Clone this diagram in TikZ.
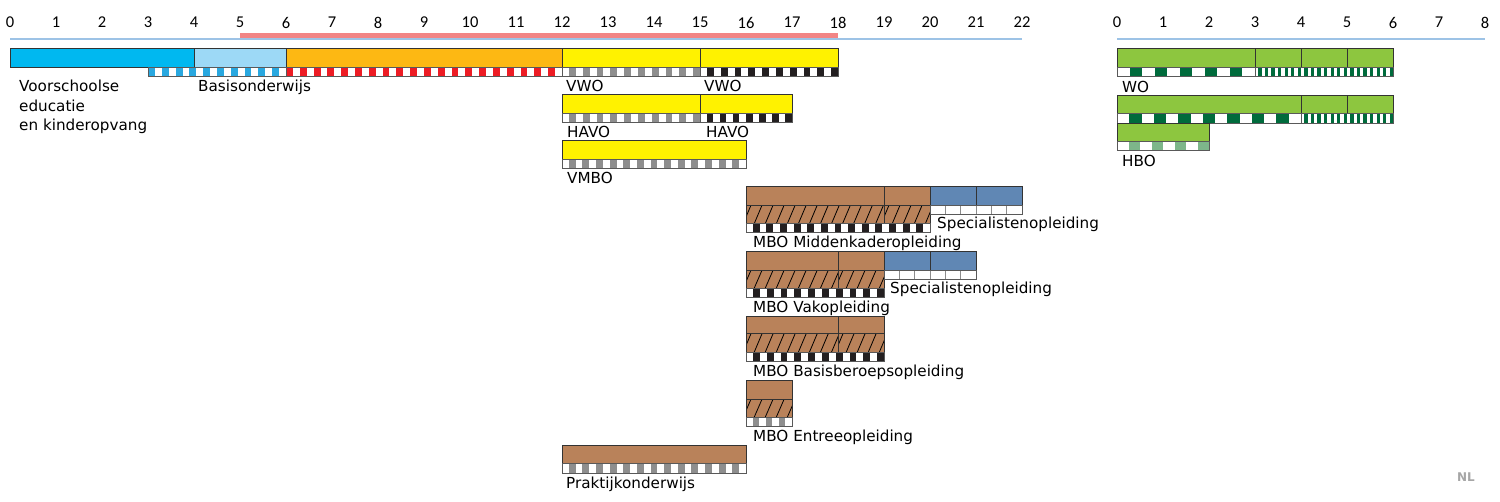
\documentclass[tikz,border=0pt]{standalone}
\usepackage{fontspec}
\setmainfont{DejaVu Sans}
\newfontfamily\axisfont{Carlito}
\definecolor{vvecyan}{HTML}{00B8F0}
\definecolor{basisblue}{HTML}{9DD9F6}
\definecolor{orangebar}{HTML}{FDB813}
\definecolor{yellowbar}{HTML}{FFF200}
\definecolor{brownbar}{HTML}{B9825A}
\definecolor{specblue}{HTML}{6087B4}
\definecolor{greenbar}{HTML}{8DC63F}
\definecolor{darkgreen}{HTML}{006B3C}
\definecolor{hbogreen}{HTML}{7DB68A}
\definecolor{stripblue}{HTML}{29A8E0}
\definecolor{stripred}{HTML}{ED1C24}
\definecolor{stripgrey}{HTML}{8E8E8E}
\definecolor{stripblack}{HTML}{231F20}
\definecolor{axpink}{HTML}{F28585}
\definecolor{axblue}{HTML}{9DC3E6}
\definecolor{nlgrey}{HTML}{A6A6A6}
\tikzset{
  barline/.style={draw=black!80, line width=0.9pt},
  stripline/.style={draw=black!65, line width=0.8pt},
  lbl/.style={anchor=base west, inner sep=0pt, font=\fontsize{15.2}{18}\selectfont},
  axnum/.style={inner sep=0pt, font=\axisfont\fontsize{16.5}{19}\selectfont},
}
% bar: x1 x2 ytop ybot colour
\newcommand{\bx}[5]{\filldraw[barline,fill=#5] (#1,#3) rectangle (#2,#4);}
% hatched brown bar: x1 x2 ytop ybot
\newcommand{\hbx}[4]{%
  \fill[brownbar] (#1,#3) rectangle (#2,#4);
  \begin{scope}
    \clip (#1,#3) rectangle (#2,#4);
    \foreach \i in {0,...,20}{\draw[line width=0.8pt] ({#1+\i*0.24-0.06},#4) -- ({#1+\i*0.24+0.11},#3);}
  \end{scope}
  \draw[barline] (#1,#3) rectangle (#2,#4);}
% chequered strip: x1 x2 ytop ybot colour ncells phase
\newcommand{\strp}[7]{%
  \fill[white] (#1,#3) rectangle (#2,#4);
  \pgfmathsetmacro{\cw}{(#2-#1)/#6}
  \pgfmathtruncatemacro{\nn}{#6-1}
  \foreach \i in {0,...,\nn}{%
    \pgfmathtruncatemacro{\od}{mod(\i+#7,2)}%
    \ifnum\od=0 \fill[#5] ({#1+\i*\cw},#3) rectangle ({#1+(\i+1)*\cw},#4);\fi}
  \draw[stripline] (#1,#3) rectangle (#2,#4);}
% grid strip: x1 x2 ytop ybot ncells
\newcommand{\grd}[5]{%
  \fill[white] (#1,#3) rectangle (#2,#4);
  \pgfmathsetmacro{\cw}{(#2-#1)/#5}
  \pgfmathtruncatemacro{\nn}{#5-1}
  \foreach \i in {1,...,\nn}{\draw[draw=black!45,line width=0.6pt] ({#1+\i*\cw},#3) -- ({#1+\i*\cw},#4);}
  \draw[stripline] (#1,#3) rectangle (#2,#4);}
\begin{document}
\begin{tikzpicture}[x=1pt,y=-1pt]
\useasboundingbox[fill=white] (0,0) rectangle (1500,501);

% ---------- left panel ----------
\begin{scope}[x=46pt,y=-1pt,xshift=10pt]
  \foreach \n in {0,...,22}{\node[axnum] (ax\n) at (\n,22.5) {\n};}
  \draw[axblue,line width=2pt] (0,38.5) -- (22,38.5);
  \draw[axpink,line width=5pt] (5,35) -- (18,35);

  % row 1
  \bx{0}{4}{48}{67}{vvecyan}
  \bx{4}{6}{48}{67}{basisblue}
  \bx{6}{12}{48}{67}{orangebar}
  \bx{12}{15}{48}{67}{yellowbar}
  \bx{15}{18}{48}{67}{yellowbar}
  \strp{3}{6}{67}{76}{stripblue}{20}{0}
  \strp{6}{12}{67}{76}{stripred}{40}{0}
  \strp{12}{15}{67}{76}{stripgrey}{20}{1}
  \strp{15}{18}{67}{76}{stripblack}{20}{1}

  % row 2 (HAVO)
  \bx{12}{15}{94}{113}{yellowbar}
  \bx{15}{17}{94}{113}{yellowbar}
  \strp{12}{15}{113}{122.5}{stripgrey}{20}{1}
  \strp{15}{17}{113}{122.5}{stripblack}{14}{1}

  % row 3 (VMBO)
  \bx{12}{16}{140.5}{159}{yellowbar}
  \strp{12}{16}{159}{168}{stripgrey}{27}{1}

  % MBO Middenkader
  \bx{16}{19}{186.5}{205}{brownbar}
  \bx{19}{20}{186.5}{205}{brownbar}
  \hbx{16}{19}{205}{223.5}
  \hbx{19}{20}{205}{223.5}
  \strp{16}{20}{223.5}{232.5}{stripblack}{27}{1}
  \bx{20}{21}{186.5}{205}{specblue}
  \bx{21}{22}{186.5}{205}{specblue}
  \grd{20}{22}{205}{214}{6}

  % MBO Vak
  \bx{16}{18}{251.5}{270}{brownbar}
  \bx{18}{19}{251.5}{270}{brownbar}
  \hbx{16}{18}{270}{288}
  \hbx{18}{19}{270}{288}
  \strp{16}{19}{288}{297}{stripblack}{20}{1}
  \bx{19}{20}{251.5}{270}{specblue}
  \bx{20}{21}{251.5}{270}{specblue}
  \grd{19}{21}{270}{279}{6}

  % MBO Basisberoeps
  \bx{16}{18}{316.5}{333.5}{brownbar}
  \bx{18}{19}{316.5}{333.5}{brownbar}
  \hbx{16}{18}{333.5}{352}
  \hbx{18}{19}{333.5}{352}
  \strp{16}{19}{352}{361.5}{stripblack}{20}{1}

  % MBO Entree
  \bx{16}{17}{380.5}{399}{brownbar}
  \hbx{16}{17}{399}{417}
  \strp{16}{17}{417}{426.5}{stripgrey}{7}{1}

  % Praktijkonderwijs
  \bx{12}{16}{445}{463}{brownbar}
  \strp{12}{16}{463}{473}{stripgrey}{27}{1}
\end{scope}

% ---------- right panel ----------
\begin{scope}[x=46pt,y=-1pt,xshift=1117pt]
  \foreach \n in {0,...,8}{\node[axnum] (bx\n) at (\n,22.5) {\n};}
  \draw[axblue,line width=2pt] (0,38.5) -- (8,38.5);

  % WO row 1
  \bx{0}{3}{48}{67}{greenbar}
  \bx{3}{4}{48}{67}{greenbar}
  \bx{4}{5}{48}{67}{greenbar}
  \bx{5}{6}{48}{67}{greenbar}
  \strp{0}{3}{67}{76}{darkgreen}{11}{1}
  \strp{3}{6}{67}{76}{darkgreen}{42}{1}

  % WO row 2
  \bx{0}{4}{95.5}{113.5}{greenbar}
  \bx{4}{5}{95.5}{113.5}{greenbar}
  \bx{5}{6}{95.5}{113.5}{greenbar}
  \strp{0}{4}{113.5}{123}{darkgreen}{15}{1}
  \strp{4}{6}{113.5}{123}{darkgreen}{28}{1}

  % HBO
  \bx{0}{2}{123}{141}{greenbar}
  \strp{0}{2}{141}{150}{hbogreen}{8}{1}
\end{scope}

% ---------- labels ----------
\node[lbl] (vve1) at (19,91.7) {Voorschoolse};
\node[lbl] (vve2) at (19,111) {educatie};
\node[lbl] (vve3) at (19,130.3) {en kinderopvang};
\node[lbl] (basis) at (198,91.7) {Basisonderwijs};
\node[lbl] (vwoa) at (566,91.7) {VWO};
\node[lbl] (vwob) at (704,91.7) {VWO};
\node[lbl] (havoa) at (567,137.5) {HAVO};
\node[lbl] (havob) at (706,137.5) {HAVO};
\node[lbl] (vmbo) at (567,183.5) {VMBO};
\node[lbl] (speca) at (937,228.5) {Specialistenopleiding};
\node[lbl] (mbomk) at (753,247.5) {MBO Middenkaderopleiding};
\node[lbl] (specb) at (890,293.5) {Specialistenopleiding};
\node[lbl] (mbovak) at (753,312.5) {MBO Vakopleiding};
\node[lbl] (mbobb) at (753,376.5) {MBO Basisberoepsopleiding};
\node[lbl] (mboen) at (753,441.5) {MBO Entreeopleiding};
\node[lbl] (prakt) at (566,488.5) {Praktijkonderwijs};
\node[lbl] (wo) at (1122,92.5) {WO};
\node[lbl] (hbo) at (1122,166.5) {HBO};
\node[inner sep=0pt,text=nlgrey,font=\bfseries\fontsize{12}{14}\selectfont] (nl) at (1466,477) {NL};
\end{tikzpicture}
\end{document}
